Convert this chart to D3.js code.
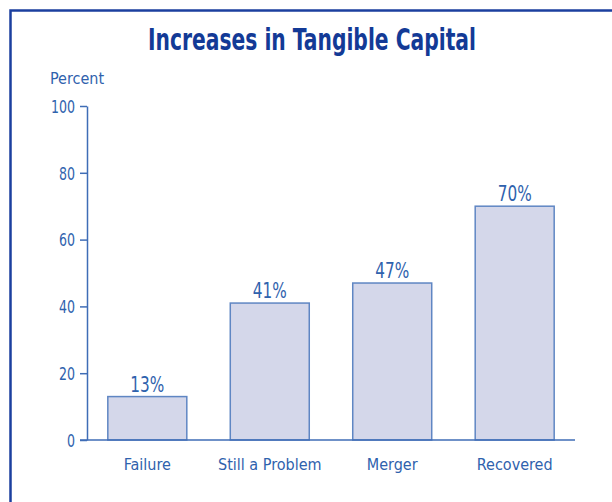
<!DOCTYPE html>
<html>
<head>
<meta charset="utf-8">
<script src="https://cdn.jsdelivr.net/npm/d3@7"></script>
<style>
  body { margin: 0; background: #fff; }
  svg text { font-family: "Liberation Sans Narrow", "DejaVu Sans Condensed", "Arial Narrow", sans-serif; }
</style>
</head>
<body>
<div class="data"></div>
<script>
// Chart data
const categories = ["Failure", "Still a Problem", "Merger", "Recovered"]
const values = [13, 41, 47, 70]
const yTicks = [0, 20, 40, 60, 80, 100]

const W = 612, H = 502
const plot = {left: 87, right: 575, top: 106, bottom: 440}

const textColor = "#2f62ad"
const axisColor = "#3f6db6"

const svg = d3.select(".data").append("svg")
    .attr("width", W)
    .attr("height", H)

// frame (runs off the right and bottom of the picture)
svg.append("path")
    .attr("d", "M10.5," + (H + 5) + "V10.5H" + (W + 5))
    .attr("fill", "none")
    .attr("stroke", "#1b3f9f")
    .attr("stroke-width", 2.5)

// caption above the frame, cut off like in the original
svg.append("text")
    .attr("x", 10)
    .attr("y", -3)
    .attr("fill", "#333")
    .style("font-size", "14px")
    .text("Figure 3")

// title, squeezed to the condensed width of the original
svg.append("text")
    .attr("x", 312)
    .attr("y", 50)
    .attr("text-anchor", "middle")
    .attr("fill", "#133a96")
    .attr("textLength", 328)
    .attr("lengthAdjust", "spacingAndGlyphs")
    .style("font-size", "30px")
    .style("font-weight", "bold")
    .text("Increases in Tangible Capital")

const x = d3.scaleBand()
    .domain(categories)
    .range([plot.left, plot.right])
    .paddingInner(0.355)
    .paddingOuter(0.17)

const y = d3.scaleLinear()
    .domain([0, 100])
    .range([plot.bottom, plot.top])

// y axis
const yAxis = svg.append("g")
    .attr("transform", "translate(" + plot.left + ",0)")
    .call(d3.axisLeft(y).tickValues(yTicks).tickSize(7).tickPadding(5).tickSizeOuter(0))
yAxis.select(".domain").attr("stroke", axisColor).attr("stroke-width", 1.5)
yAxis.selectAll(".tick line").attr("stroke", axisColor).attr("stroke-width", 1.5)
yAxis.selectAll(".tick text")
    .attr("fill", textColor)
    .style("font-size", "18px")
    .attr("dy", "0.35em")
    .attr("textLength", d => String(d).length * 8)
    .attr("lengthAdjust", "spacingAndGlyphs")

// "Percent" label
svg.append("text")
    .attr("x", 50)
    .attr("y", 84)
    .attr("fill", textColor)
    .style("font-size", "16px")
    .text("Percent")

// bars
svg.selectAll(".bar")
    .data(values)
    .enter().append("rect")
    .attr("class", "bar")
    .attr("x", (d, i) => x(categories[i]))
    .attr("y", d => y(d))
    .attr("width", x.bandwidth())
    .attr("height", d => y(0) - y(d))
    .attr("fill", "#d4d7ea")
    .attr("stroke", "#5f86c3")
    .attr("stroke-width", 1.5)

// baseline
svg.append("line")
    .attr("x1", plot.left - 7)
    .attr("x2", plot.right)
    .attr("y1", y(0))
    .attr("y2", y(0))
    .attr("stroke", axisColor)
    .attr("stroke-width", 1.5)

// value labels
svg.selectAll(".val")
    .data(values)
    .enter().append("text")
    .attr("class", "val")
    .attr("x", (d, i) => x(categories[i]) + x.bandwidth() / 2)
    .attr("y", d => y(d) - 5)
    .attr("text-anchor", "middle")
    .attr("fill", textColor)
    .attr("textLength", 34)
    .attr("lengthAdjust", "spacingAndGlyphs")
    .style("font-size", "22px")
    .text(d => d + "%")

// category labels
svg.selectAll(".cat")
    .data(categories)
    .enter().append("text")
    .attr("class", "cat")
    .attr("x", d => x(d) + x.bandwidth() / 2)
    .attr("y", 470)
    .attr("text-anchor", "middle")
    .attr("fill", textColor)
    .style("font-size", "16px")
    .text(d => d)
</script>
</body>
</html>
